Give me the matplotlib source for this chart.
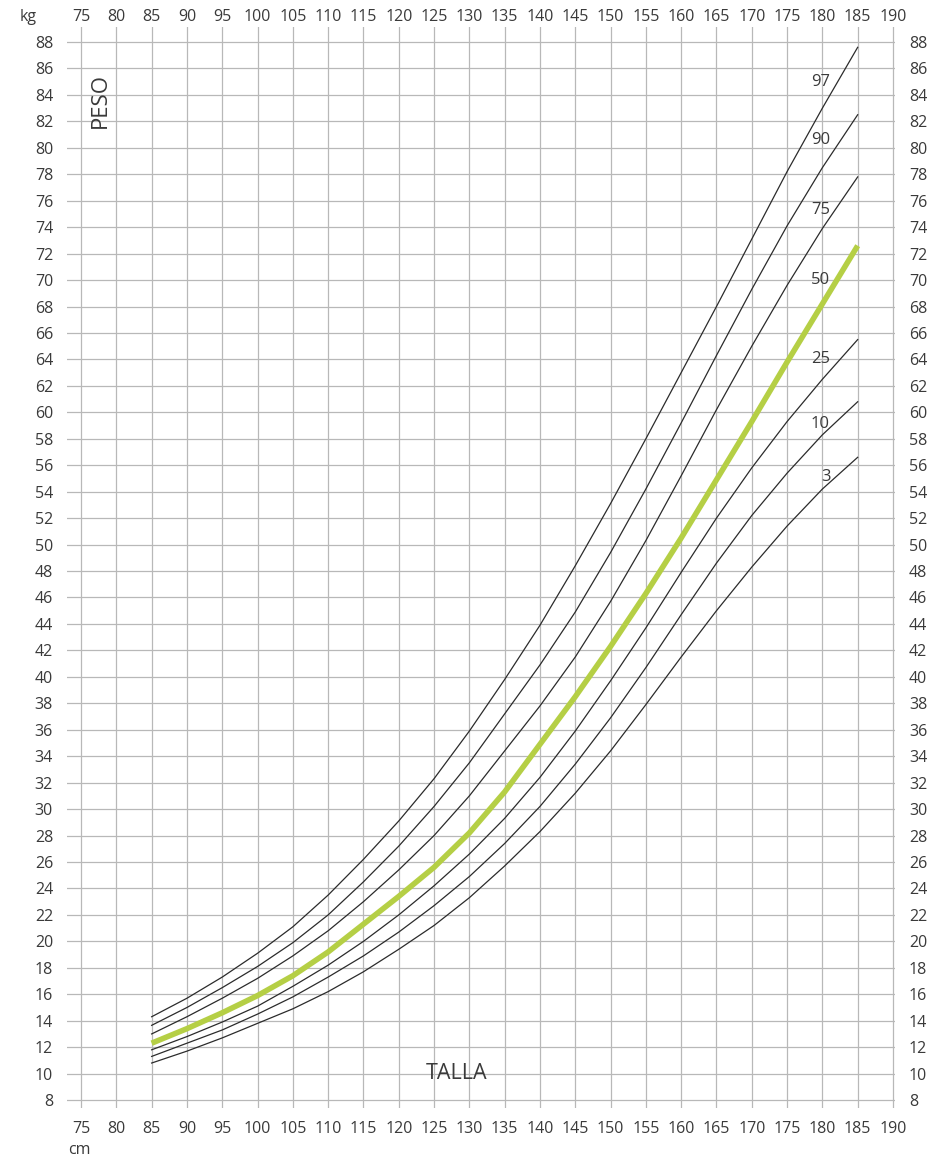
import numpy as np
import matplotlib
matplotlib.use("Agg")
import matplotlib.pyplot as plt

plt.rcParams['font.family'] = ['Open Sans', 'DejaVu Sans']

# talla (cm) and peso (kg) percentiles
talla = [85, 90, 95, 100, 105, 110, 115, 120, 125, 130, 135,
         140, 145, 150, 155, 160, 165, 170, 175, 180, 185]
p97 = [14.3, 15.7, 17.3, 19.1, 21.1, 23.5, 26.2, 29.1, 32.3, 35.9, 39.8,
       43.9, 48.4, 53.1, 58.0, 63.0, 68.0, 73.1, 78.2, 83.0, 87.6]
p90 = [13.65, 15.0, 16.5, 18.1, 19.9, 22.0, 24.5, 27.2, 30.2, 33.5, 37.2,
       40.9, 44.9, 49.4, 54.2, 59.2, 64.3, 69.3, 74.1, 78.5, 82.5]
p75 = [13.0, 14.3, 15.7, 17.2, 18.9, 20.8, 23.0, 25.4, 28.0, 31.0, 34.4,
       37.8, 41.5, 45.7, 50.3, 55.2, 60.2, 65.0, 69.6, 73.9, 77.8]
p50 = [12.3, 13.4, 14.6, 15.9, 17.4, 19.2, 21.3, 23.4, 25.6, 28.2, 31.3,
       34.9, 38.5, 42.3, 46.3, 50.5, 54.9, 59.3, 63.8, 68.2, 72.6]
p25 = [11.8, 12.8, 13.9, 15.1, 16.6, 18.2, 20.0, 22.0, 24.2, 26.6, 29.3,
       32.4, 35.9, 39.7, 43.7, 47.9, 52.0, 55.8, 59.3, 62.5, 65.5]
p10 = [11.3, 12.3, 13.3, 14.5, 15.8, 17.3, 18.9, 20.7, 22.7, 24.9, 27.4,
       30.2, 33.4, 36.9, 40.7, 44.7, 48.6, 52.2, 55.4, 58.3, 60.8]
p3 = [10.8, 11.7, 12.7, 13.8, 14.9, 16.2, 17.7, 19.4, 21.2, 23.3, 25.7,
      28.3, 31.2, 34.4, 37.9, 41.5, 45.0, 48.3, 51.4, 54.2, 56.6]

curves = [("97", p97), ("90", p90), ("75", p75), ("50", p50),
          ("25", p25), ("10", p10), ("3", p3)]
# where the percentile labels sit (cm, kg)
label_pos = {"97": (179.7, 85.0), "90": (179.7, 80.6), "75": (179.7, 75.3),
             "50": (179.7, 70.0), "25": (179.7, 64.0), "10": (179.7, 59.1),
             "3": (180.5, 55.1)}

x_ticks = np.arange(75, 191, 5)
y_ticks = np.arange(8, 89, 2)

txt = '#3a3a3a'
grid_c = '#b8b8b8'
green = '#b5cf45'

fig = plt.figure(figsize=(9.32, 11.59), dpi=100)
ax = fig.add_axes([0.0718, 0.044, 0.8886, 0.9323])
ax.set_xlim(73, 190.3)
ax.set_ylim(7.4, 89.1)

ax.set_xticks(x_ticks)
ax.set_yticks(y_ticks)
ax.grid(True, color=grid_c, linewidth=0.9)
ax.set_axisbelow(True)
for s in ax.spines.values():
    s.set_visible(False)

ax.tick_params(axis='both', length=0, labelsize=11.5, labelcolor=txt)
ax.tick_params(axis='x', pad=9)
ax.tick_params(axis='y', left=True, labelleft=True, right=True, labelright=True, pad=10)

# top scale, tighter to the grid than the bottom one
top = ax.secondary_xaxis('top')
top.set_xticks(x_ticks)
top.tick_params(length=0, pad=2, labelsize=11.5, labelcolor=txt)
top.spines['top'].set_visible(False)

for name, vals in curves:
    if name == "50":
        ax.plot(talla, vals, color=green, linewidth=4.0, solid_capstyle='butt',
                solid_joinstyle='round', zorder=3)
    else:
        ax.plot(talla, vals, color='#2b2b2b', linewidth=0.9,
                solid_joinstyle='round', zorder=3)
    lx, ly = label_pos[name]
    ax.text(lx, ly, name, fontsize=12, color=txt, ha='center', va='center', zorder=4)

ax.text(77.7, 83.6, "PESO", rotation=90, fontsize=16, color=txt, ha='center', va='center')
ax.text(128.2, 10.0, "TALLA", fontsize=15.5, color=txt, ha='center', va='center')
fig.text(20 / 932, 1 - 17 / 1159, "kg", fontsize=11.5, color=txt, ha='left', va='center')
fig.text(68 / 932, 1 - 1150 / 1159, "cm", fontsize=11.5, color=txt, ha='left', va='center')

fig.savefig("out.png", dpi=100, facecolor='white')
